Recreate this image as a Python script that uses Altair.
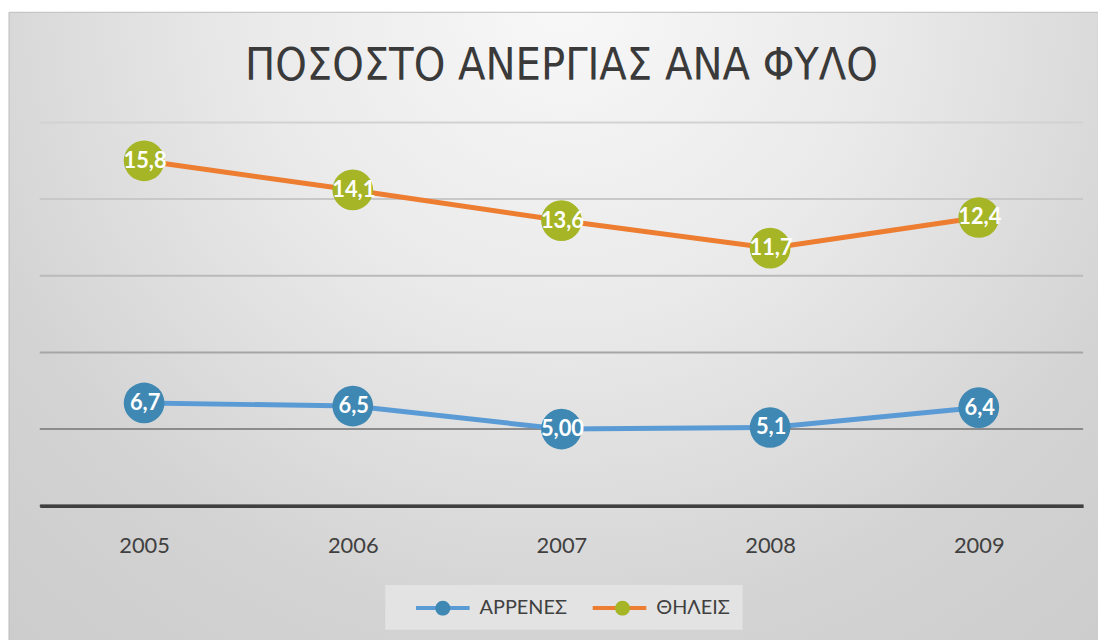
import altair as alt
import pandas as pd

# ---- data ----
years = ["2005", "2006", "2007", "2008", "2009"]
series_names = ["ΑΡΡΕΝΕΣ", "ΘΗΛΕΙΣ"]
male = [6.7, 6.5, 5.0, 5.1, 6.4]
female = [15.8, 14.1, 13.6, 11.7, 12.4]
male_labels = ["6,7", "6,5", "5,00", "5,1", "6,4"]
female_labels = ["15,8", "14,1", "13,6", "11,7", "12,4"]
title_text = "ΠΟΣΟΣΤΟ ΑΝΕΡΓΙΑΣ ΑΝΑ ΦΥΛΟ"
y_ticks = [0, 5, 10, 15, 20, 25]
grid_colors = ["#404040", "#8c8c8c", "#a6a6a6", "#bababa", "#c8c8c8", "#d2d2d2"]

line_colors = ["#5b9bd5", "#ed7d31"]
marker_colors = ["#3f88b3", "#a6b526"]

rows = []
for name, vals, labs in ((series_names[0], male, male_labels),
                         (series_names[1], female, female_labels)):
    for yr, v, lab in zip(years, vals, labs):
        rows.append({"year": yr, "series": name, "series2": name, "value": v, "label": lab})
df = pd.DataFrame(rows)
grid_df = pd.DataFrame({"v1": y_ticks})

W, H = 1051, 386
PAD_L, PAD_T = 32, 113
PAD_R = 1098 - PAD_L - W
PAD_B = 632 - PAD_T - H

FONT = "Lato, 'Open Sans', sans-serif"
TXT = "#404040"

# legend symbol geometry (units of symbol radius = 9px)
LINE_SYM = "M0.8889,0H6.8889"
CIRC_SYM = ("M4.7222,0A0.8333,0.8333 0 1,1 3.0556,0"
            "A0.8333,0.8333 0 1,1 4.7222,0Z")
LEG_X, LEG_Y = 348, 466

base = alt.Chart(df).transform_stack(
    stack="value", groupby=["year"], as_=["v0", "v1"],
    sort=[alt.SortField("series", order="ascending")]
)

x_enc = alt.X(
    "year:O",
    scale=alt.Scale(type="point", padding=0.5),
    axis=alt.Axis(
        title=None, labelAngle=0, ticks=False, grid=False,
        domain=True, domainColor=TXT, domainWidth=3.5,
        labelFont=FONT, labelFontSize=22, labelColor=TXT, labelPadding=30,
        zindex=1,
    ),
)
y_scale = alt.Scale(domain=[0, 25], nice=False, zero=True)
y_enc = alt.Y("v1:Q", scale=y_scale, axis=None)

gradient = {
    "gradient": "radial",
    "x1": 0.5, "y1": 0.2, "r1": 0,
    "x2": 0.5, "y2": 0.2, "r2": 1,
    "stops": [
        {"offset": 0, "color": "#f8f8f8"},
        {"offset": 0.28, "color": "#eaeaea"},
        {"offset": 0.57, "color": "#d3d3d3"},
        {"offset": 0.95, "color": "#c6c6c6"},
        {"offset": 1, "color": "#c4c4c4"},
    ],
}

bg = alt.Chart(pd.DataFrame({"k": [0]})).mark_rect(
    fill=gradient, stroke="#bdbdbd", strokeWidth=1
).encode(
    x=alt.value(-31), x2=alt.value(W + 40),
    y=alt.value(-111), y2=alt.value(H + 150),
)

grid = alt.Chart(grid_df).mark_rule(strokeWidth=2).encode(
    y=alt.Y("v1:Q", scale=y_scale, axis=None),
    color=alt.Color("v1:O", scale=alt.Scale(domain=y_ticks, range=grid_colors), legend=None),
)

lines = base.mark_line(strokeWidth=5, strokeCap="round").encode(
    x=x_enc, y=y_enc,
    stroke=alt.Stroke(
        "series:N",
        scale=alt.Scale(domain=series_names, range=line_colors),
        legend=alt.Legend(
            orient="none", legendX=LEG_X, legendY=LEG_Y, direction="horizontal",
            title=None, symbolType=LINE_SYM, symbolSize=324, symbolStrokeWidth=4,
            labelFont=FONT, labelFontSize=20, labelColor=TXT, labelOffset=61,
            columnPadding=6, padding=12, fillColor="#e3e3e3", zindex=0,
        ),
    ),
)

points = base.mark_point(filled=True, shape="circle", size=1681, opacity=1).encode(
    x=x_enc, y=y_enc,
    fill=alt.Fill(
        "series2:N",
        scale=alt.Scale(range=marker_colors),
        legend=alt.Legend(
            orient="none", legendX=LEG_X, legendY=LEG_Y, direction="horizontal",
            title=None, symbolType=CIRC_SYM, symbolSize=324, symbolStrokeWidth=4,
            symbolStrokeColor="transparent", symbolOpacity=1,
            labelFont=FONT, labelFontSize=20, labelColor=TXT, labelOffset=0,
            labelExpr="''", columnPadding=119, padding=12, zindex=1,
        ),
    ),
)

labels = base.mark_text(
    font=FONT, fontSize=22, fontWeight="bold", color="white",
    align="center", baseline="middle", dx=1,
).encode(x=x_enc, y=y_enc, text="label:N")

chart = alt.layer(bg, grid, lines, points, labels).properties(
    width=W, height=H,
    title=alt.Title(
        title_text, font="'Liberation Sans Narrow', 'DejaVu Sans Condensed', 'Open Sans', sans-serif",
        fontSize=45, fontWeight="normal", color="#3a3a3a", anchor="middle",
        offset=-78, zindex=1,
    ),
    autosize=alt.AutoSizeParams(type="none"),
    padding={"left": PAD_L, "top": PAD_T, "right": PAD_R, "bottom": PAD_B},
).configure_view(stroke=None).configure(background="white")

chart.save("out.html", embed_options={"renderer": "svg", "actions": False})
